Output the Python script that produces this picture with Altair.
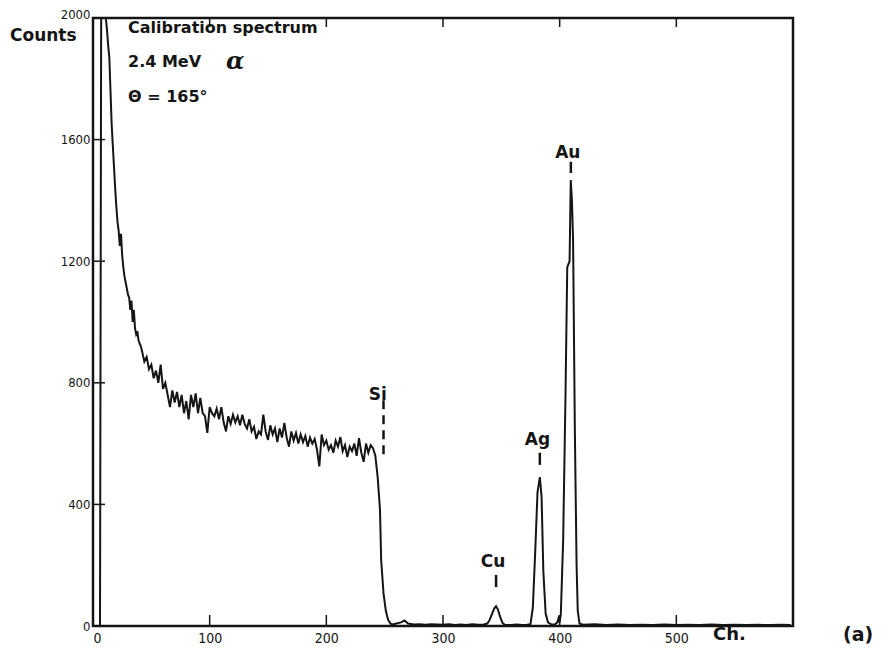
import altair as alt
import pandas as pd

# ---- data ----
channel = [0, 6, 7, 8, 10, 11, 12, 13, 14, 15, 16, 17, 18, 19, 20, 21, 22, 23, 24, 25,
           26, 27, 28, 29, 30, 31, 32, 33, 34, 35, 36, 37, 38, 39, 40, 41,
           42, 44, 46, 48, 50, 52, 54, 56, 58, 60, 62, 64, 66, 68, 70, 72, 74, 76, 78,
           80, 82, 84, 86, 88, 90, 92, 94, 96, 98, 100, 102, 104, 106, 108, 110, 112,
           114, 116, 118, 120, 122, 124, 126, 128, 130, 132, 134, 136, 138, 140, 142,
           144, 146, 148, 150, 152, 154, 156, 158, 160, 162, 164, 166, 168, 170, 172,
           174, 176, 178, 180, 182, 184, 186, 188, 190, 192, 194, 196, 198, 200, 202,
           204, 206, 208, 210, 212, 214, 216, 218, 220, 222, 224, 226, 228, 230, 232,
           234, 236, 238, 240, 242, 244, 246, 247, 249, 251, 253, 255, 257, 260, 264,
           267, 270, 275, 280, 285, 290, 295, 300, 305, 310, 315, 320, 325, 330, 335,
           338, 340, 342, 344, 345.5, 347, 349, 351, 353, 358, 363, 368, 372, 375, 377,
           379, 381, 383, 384.5, 386, 388, 390, 393, 396, 398, 399, 400, 401, 403, 405,
           406.5, 408.5, 409.5, 410.5, 411.5, 413, 414.5, 415.5, 417, 420, 430, 440,
           450, 460, 470, 480, 490, 500, 510, 520, 530, 540, 550, 560, 570, 580, 590, 598]
counts = [0, 0, 2000, 2000, 2000, 2000, 1960, 1910, 1870, 1760, 1650, 1580, 1510, 1440, 1380,
          1330, 1300, 1250, 1290, 1220, 1180, 1150, 1130, 1110, 1090, 1080, 1040, 1070, 1000,
          1040, 980, 960, 970, 940, 930, 920,
          905, 870, 885, 845, 860, 815, 840, 800, 860, 780, 800, 760, 720, 775, 735, 770,
          720, 760, 700, 740, 680, 760, 720, 765, 700, 750, 700, 690, 635, 720, 700, 690,
          715, 680, 720, 670, 640, 690, 665, 695, 670, 690, 660, 695, 665, 650, 680, 640,
          655, 615, 640, 630, 695, 640, 612, 660, 630, 650, 605, 650, 620, 668, 620, 590,
          640, 610, 635, 600, 630, 605, 625, 590, 620, 600, 615, 580, 525, 630, 595, 610,
          580, 595, 570, 610, 590, 622, 575, 595, 556, 590, 575, 600, 560, 618, 570, 540,
          600, 570, 595, 585, 560, 490, 382, 217, 108, 50, 20, 8, 5, 8, 12, 18, 8, 5, 6, 4,
          6, 5, 4, 6, 3, 5, 3, 6, 4, 5, 8, 20, 40, 58, 65, 55, 30, 10, 4, 3, 5, 3, 4, 6, 60,
          240, 440, 490, 425, 180, 40, 12, 5, 6, 12, 25, 12, 40, 283, 760, 1180, 1200, 1467,
          1400, 1270, 650, 200, 50, 8, 4, 6, 3, 5, 3, 4, 3, 5, 3, 4, 3, 5, 3, 4, 3, 4, 3, 4, 3]

x_ticks = [100, 200, 300, 400, 500]
y_ticks = [400, 800, 1200, 1600]

peak_names = ["Si", "Cu", "Ag", "Au"]
peak_label_ch = [244, 343, 381, 407]
peak_label_val = [760, 210, 612, 1556]
peak_mark_ch = [249, 345.5, 383, 409.6]
peak_mark_top = [743, 168, 570, 1527]
peak_mark_bottom = [556, 128, 530, 1490]

info_lines = ["Calibration  spectrum", "2.4  MeV", "Θ = 165°"]

W, H = 700, 608
XD = [0, 600]
YD = [0, 2000]

spec = pd.DataFrame({"ch": channel, "counts": counts})
xs = alt.Scale(domain=XD, nice=False, zero=False)
ys = alt.Scale(domain=YD, nice=False)

BOLD = "DejaVu Sans"
NUM = "DejaVu Sans Condensed"
INK = "#151515"

line = alt.Chart(spec).mark_line(color=INK, strokeWidth=2.0, clip=True).encode(
    x=alt.X("ch:Q", scale=xs,
            axis=alt.Axis(values=[0, 100, 200, 300, 400, 500], title=None, ticks=False,
                          domain=False, grid=False, labelFont=NUM, labelFontSize=14,
                          labelColor=INK, labelPadding=5, format="d",
                          labelAlign={"condition": {"test": "datum.value === 0", "value": "left"},
                                      "value": "center"})),
    y=alt.Y("counts:Q", scale=ys,
            axis=alt.Axis(values=[0, 400, 800, 1200, 1600, 2000], title=None, ticks=False,
                          domain=False, grid=False, labelFont=NUM, labelFontSize=13,
                          labelColor=INK, labelPadding=3, format="d",
                          labelBaseline={"condition": {"test": "datum.value === 2000",
                                                       "value": "alphabetic"},
                                         "value": "middle"})),
)

xt = pd.DataFrame({"x": x_ticks})
bottom_ticks = alt.Chart(xt).mark_rule(color=INK, strokeWidth=1.5).encode(
    x=alt.X("x:Q", scale=xs), y=alt.value(H), y2=alt.value(H - 11))
top_ticks = alt.Chart(xt).mark_rule(color=INK, strokeWidth=1.5).encode(
    x=alt.X("x:Q", scale=xs), y=alt.value(0), y2=alt.value(9))
yt = pd.DataFrame({"y": y_ticks})
left_ticks = alt.Chart(yt).mark_rule(color=INK, strokeWidth=1.5).encode(
    y=alt.Y("y:Q", scale=ys), x=alt.value(0), x2=alt.value(12))

peaks = pd.DataFrame({"name": peak_names, "lx": peak_label_ch, "ly": peak_label_val,
                      "mx": peak_mark_ch, "mt": peak_mark_top, "mb": peak_mark_bottom})
peak_text = alt.Chart(peaks).mark_text(font=BOLD, fontWeight="bold", fontSize=17,
                                       color=INK, baseline="middle").encode(
    x=alt.X("lx:Q", scale=xs), y=alt.Y("ly:Q", scale=ys), text="name:N")
peak_solid = alt.Chart(peaks).transform_filter("datum.name != 'Si'").mark_rule(
    color=INK, strokeWidth=2.5).encode(
    x=alt.X("mx:Q", scale=xs), y=alt.Y("mt:Q", scale=ys), y2="mb:Q")
peak_dash = alt.Chart(peaks).transform_filter("datum.name == 'Si'").mark_rule(
    color=INK, strokeWidth=2.5, strokeDash=[9, 6]).encode(
    x=alt.X("mx:Q", scale=xs), y=alt.Y("mt:Q", scale=ys), y2="mb:Q")

info = pd.DataFrame({"t": info_lines, "px": [35, 35, 35], "py": [10, 44, 79]})
info_text = alt.Chart(info).mark_text(font=BOLD, fontWeight="bold", fontSize=16,
                                      color=INK, align="left", baseline="middle").encode(
    x=alt.X("px:Q", scale=None), y=alt.Y("py:Q", scale=None), text="t:N")
alpha = alt.Chart(pd.DataFrame({"t": ["α"], "px": [133], "py": [44]})).mark_text(
    font="DejaVu Serif", fontStyle="italic", fontWeight="bold", fontSize=24,
    color=INK, align="left", baseline="middle").encode(
    x=alt.X("px:Q", scale=None), y=alt.Y("py:Q", scale=None), text="t:N")

outer = pd.DataFrame({"t": ["Counts", "Ch.", "(a)"], "px": [-83, 620, 750],
                      "py": [18, 617, 617], "fs": [17, 18, 19]})
outer_text = alt.Chart(outer).mark_text(font=BOLD, fontWeight="bold",
                                        color=INK, align="left", baseline="middle").encode(
    x=alt.X("px:Q", scale=None), y=alt.Y("py:Q", scale=None), text="t:N",
    size=alt.Size("fs:Q", scale=None, legend=None))

chart = alt.layer(line, bottom_ticks, top_ticks, left_ticks, peak_solid, peak_dash,
                  peak_text, info_text, alpha, outer_text).properties(
    width=W, height=H,
    background="white",
    autosize=alt.AutoSizeParams(type="none"),
    padding={"left": 93, "top": 18, "right": 97, "bottom": 29},
).configure_view(stroke=INK, strokeWidth=2.5)

chart.save("out.html", embed_options={"renderer": "svg", "actions": False})
